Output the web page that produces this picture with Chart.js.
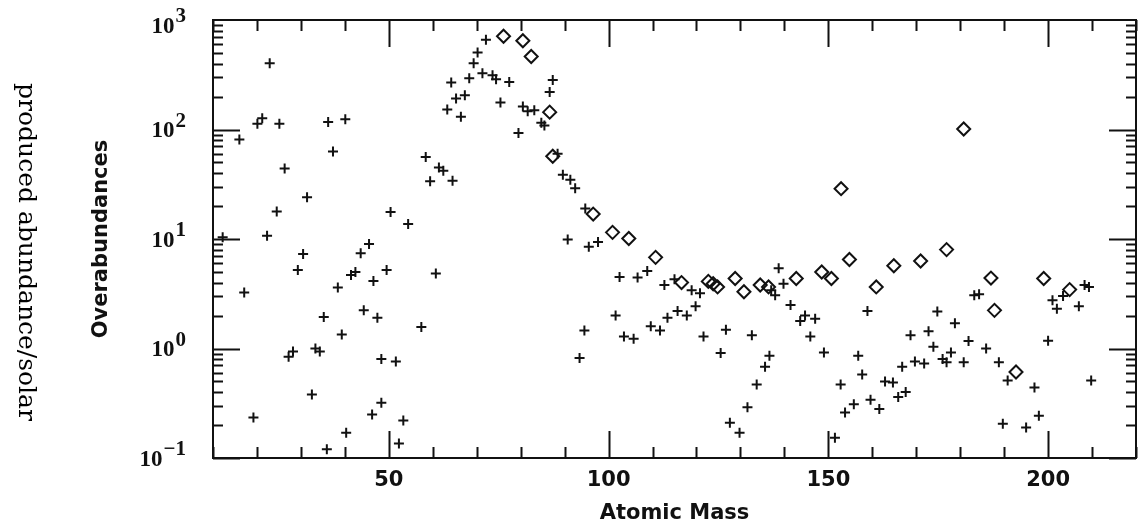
<!DOCTYPE html>
<html>
<head>
<meta charset="utf-8">
<script src="https://cdn.jsdelivr.net/npm/chart.js@4.4.1/dist/chart.umd.min.js"></script>
<style>
  html, body { margin: 0; padding: 0; background: #fff; }
  #wrap { width: 1146px; height: 526px; }
</style>
</head>
<body>
<div id="wrap"><canvas id="chart" width="1146" height="526"></canvas></div>
<script>
// crosses: atomic mass vs overabundance
const massPlus = [
  12.2, 16, 17.1, 19.2, 20.1, 21.2, 22.3, 22.9, 24.5, 25.1,
  26.3, 27.2, 28.2, 29.3, 30.5, 31.4, 32.5, 33.3, 34.3, 35.2,
  35.9, 36.2, 37.3, 38.4, 39.3, 40.1, 40.3, 41.4, 42.4, 43.6,
  44.3, 45.5, 46.2, 46.5, 47.4, 48.3, 48.3, 49.5, 50.4, 51.6,
  52.3, 53.3, 54.4, 57.4, 58.4, 59.4, 60.7, 61.4, 62.4, 63.3,
  64.2, 64.5, 65.3, 66.4, 67.3, 68.3, 69.3, 70.2, 71.3, 72.1,
  73.6, 74.4, 75.4, 77.4, 79.5, 80.5, 81.6, 83.1, 84.7, 85.4,
  86.6, 87.3, 88.4, 89.6, 90.7, 91.3, 92.4, 93.4, 94.5, 94.7,
  95.5, 97.6, 101.6, 102.5, 103.5, 105.7, 106.6, 108.8, 109.6, 111.7,
  112.7, 113.4, 115, 115.7, 117.8, 118.9, 119.8, 120.8, 121.6, 125.5,
  126.7, 127.6, 129.8, 131.6, 132.6, 133.7, 135.6, 136.6, 137, 137.9,
  138.7, 139.8, 141.4, 143.6, 144.7, 145.9, 147, 149, 151.5, 152.8,
  153.8, 155.8, 156.8, 157.7, 158.9, 159.6, 161.6, 162.9, 164.7, 165.9,
  166.8, 167.6, 168.7, 169.7, 171.8, 172.8, 173.9, 174.8, 176, 176.9,
  177.9, 178.8, 180.8, 181.9, 183.2, 184.3, 185.9, 188.8, 189.7, 190.8,
  195, 196.9, 197.9, 200, 201, 202, 203.4, 207, 208.3, 209.3,
  209.8
];
const abundPlus = [
  10.4, 81, 3.24, 0.234, 113, 127, 10.7, 403, 17.8, 113,
  44, 0.84, 0.94, 5.2, 7.3, 24, 0.38, 1.0, 0.94, 1.94,
  0.12, 117, 63, 3.6, 1.34, 124, 0.17, 4.7, 5.0, 7.4,
  2.23, 9.0, 0.25, 4.14, 1.91, 0.8, 0.32, 5.2, 17.6, 0.76,
  0.136, 0.22, 13.7, 1.57, 56, 33.6, 4.84, 45, 42, 152,
  268, 34, 192, 131, 206, 294, 403, 506, 326, 660,
  313, 288, 176, 272, 93, 162, 147, 150, 115, 109,
  220, 283, 60, 38.6, 9.9, 34.8, 29, 0.82, 1.46, 19,
  8.5, 9.4, 2.0, 4.5, 1.29, 1.23, 4.46, 5.1, 1.6, 1.46,
  3.8, 1.91, 4.3, 2.2, 2.0, 3.4, 2.43, 3.2, 1.29, 0.91,
  1.48, 0.21, 0.17, 0.29, 1.32, 0.47, 0.68, 0.86, 3.4, 3.06,
  5.4, 3.9, 2.5, 1.78, 2.0, 1.29, 1.87, 0.92, 0.153, 0.47,
  0.26, 0.31, 0.86, 0.58, 2.2, 0.34, 0.28, 0.5, 0.49, 0.36,
  0.68, 0.40, 1.32, 0.76, 0.73, 1.44, 1.04, 2.18, 0.8, 0.75,
  0.92, 1.7, 0.75, 1.17, 3.06, 3.13, 1.0, 0.75, 0.206, 0.51,
  0.19, 0.44, 0.243, 1.18, 2.76, 2.31, 3.02, 2.43, 3.8, 3.65,
  0.51
];

// diamonds
const massDiamond = [
  76.1, 80.5, 82.4, 86.6, 87.3, 96.5, 100.9, 104.6, 110.7, 116.6,
  122.7, 123.8, 124.8, 128.8, 130.8, 134.5, 136.4, 142.7, 148.5, 150.7,
  152.9, 154.8, 160.9, 164.9, 171, 176.9, 180.8, 187, 187.8, 192.7,
  199, 204.9
];
const abundDiamond = [
  710, 646, 464, 144, 57, 16.9, 11.5, 10.1, 6.8, 4.0,
  4.1, 3.9, 3.65, 4.36, 3.3, 3.8, 3.65, 4.36, 5.0, 4.36,
  28.8, 6.5, 3.65, 5.7, 6.3, 8.0, 101, 4.4, 2.23, 0.61,
  4.36, 3.45
];

// axis ticks
const xMin = 10;
const xMax = 220;
const xMinorStep = 10;
const xLabelStep = 50;
const decadeExponents = [-1, 0, 1, 2, 3];

const INK = '#111';

function toPoints(xs, ys) {
  return xs.map((x, i) => ({ x, y: ys[i] }));
}

// Frame with inward tick marks on all four sides, plus y labels as 10^n
const framePlugin = {
  id: 'frame',
  afterDraw(chart) {
    const { ctx, chartArea: a, scales } = chart;
    const xs = scales.x;
    const ys = scales.y;
    ctx.save();
    ctx.strokeStyle = INK;
    ctx.lineWidth = 2;
    ctx.strokeRect(a.left, a.top, a.right - a.left, a.bottom - a.top);

    ctx.beginPath();
    for (let v = xMin; v <= xMax; v += xMinorStep) {
      const px = Math.round(xs.getPixelForValue(v)) + 0.5;
      const len = v % xLabelStep === 0 ? 27 : 11;
      ctx.moveTo(px, a.bottom);
      ctx.lineTo(px, a.bottom - len);
      ctx.moveTo(px, a.top);
      ctx.lineTo(px, a.top + len);
    }
    for (let e = -1; e < 3; e++) {
      for (let m = 1; m <= 9; m++) {
        const py = Math.round(ys.getPixelForValue(m * Math.pow(10, e))) + 0.5;
        const len = m === 1 ? 27 : 10;
        ctx.moveTo(a.left, py);
        ctx.lineTo(a.left + len, py);
        ctx.moveTo(a.right, py);
        ctx.lineTo(a.right - len, py);
      }
    }
    ctx.stroke();

    // y tick labels: "10" with raised exponent
    ctx.fillStyle = INK;
    ctx.textBaseline = 'middle';
    ctx.textAlign = 'right';
    const labelRight = 186;
    decadeExponents.forEach(e => {
      const py = ys.getPixelForValue(Math.pow(10, e));
      const baseY = Math.max(py + 2, 27);
      const exp = e < 0 ? '\u2212' + Math.abs(e) : String(e);
      ctx.font = 'bold 21px "Liberation Serif"';
      const expW = ctx.measureText(exp).width;
      ctx.fillText(exp, labelRight, baseY - 10);
      ctx.font = 'bold 23px "Liberation Serif"';
      ctx.fillText('10', labelRight - expW - 1, baseY);
    });

    // side caption
    ctx.save();
    ctx.translate(25, 252);
    ctx.rotate(Math.PI / 2);
    ctx.textAlign = 'center';
    ctx.textBaseline = 'middle';
    ctx.font = '25px "DejaVu Serif"';
    ctx.fillStyle = '#000';
    ctx.fillText('produced abundance/solar', 0, 0);
    ctx.restore();

    ctx.restore();
  }
};

const config = {
  type: 'scatter',
  data: {
    datasets: [
      {
        label: 'crosses',
        data: toPoints(massPlus, abundPlus),
        pointStyle: 'cross',
        pointRadius: 5,
        pointBorderWidth: 2,
        pointBorderColor: INK,
        pointBackgroundColor: INK
      },
      {
        label: 'diamonds',
        data: toPoints(massDiamond, abundDiamond),
        pointStyle: 'rectRot',
        pointRadius: 6.5,
        pointBorderWidth: 2,
        pointBorderColor: INK,
        pointBackgroundColor: 'rgba(0,0,0,0)'
      }
    ]
  },
  options: {
    responsive: false,
    animation: false,
    devicePixelRatio: 1,
    layout: { padding: { left: 89, right: 9, top: 20, bottom: 0 } },
    plugins: {
      legend: { display: false },
      tooltip: { enabled: false }
    },
    scales: {
      x: {
        type: 'linear',
        position: 'bottom',
        min: xMin,
        max: xMax,
        grid: { display: false, drawTicks: false },
        border: { display: false },
        ticks: {
          stepSize: xMinorStep,
          autoSkip: false,
          maxRotation: 0,
          padding: 10,
          color: INK,
          font: { family: '"DejaVu Sans"', size: 21, weight: 'bold' },
          callback: v => (v % xLabelStep === 0 ? String(v) : '')
        },
        title: {
          display: true,
          text: 'Atomic Mass',
          color: INK,
          padding: 0,
          font: { family: '"DejaVu Sans"', size: 21, weight: 'bold' }
        },
        afterFit: s => { s.height = 68; }
      },
      y: {
        type: 'logarithmic',
        min: 0.1,
        max: 1000,
        grid: { display: false, drawTicks: false },
        border: { display: false },
        ticks: { display: false },
        afterBuildTicks: s => {
          s.ticks = decadeExponents.map(e => ({ value: Math.pow(10, e) }));
        },
        title: {
          display: true,
          text: 'Overabundances',
          color: INK,
          padding: 0,
          font: { family: '"DejaVu Sans"', size: 21, weight: 'bold' }
        },
        afterFit: s => { s.width = 124; }
      }
    }
  },
  plugins: [framePlugin]
};

new Chart(document.getElementById('chart'), config);
</script>
</body>
</html>
